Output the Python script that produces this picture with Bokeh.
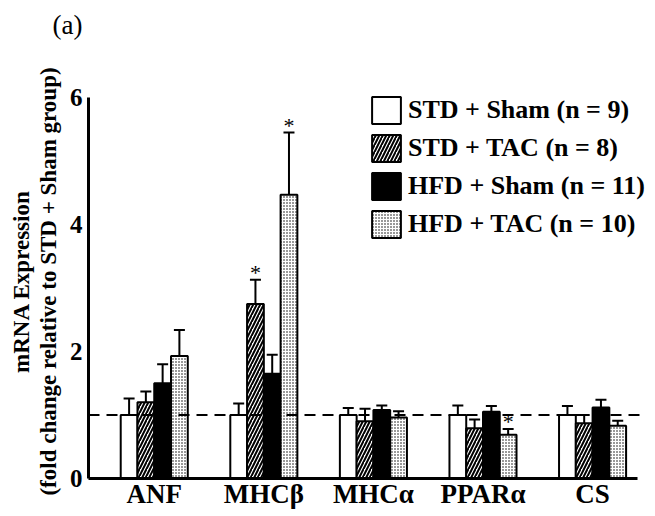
import numpy as np
from bokeh.plotting import figure
from bokeh.models import (Range1d, FixedTicker, Legend, LegendItem, Span,
                          ColumnDataSource, Title)
from bokeh.embed import file_html
from bokeh.resources import INLINE
from bokeh.core.properties import value

# ---------------- data ----------------
genes = ["ANF", "MHCβ", "MHCα", "PPARα", "CS"]
groups = ["STD + Sham (n = 9)", "STD + TAC (n = 8)",
          "HFD + Sham (n = 11)", "HFD + TAC (n = 10)"]

std_sham = [1.00, 1.00, 1.00, 1.00, 1.00]
std_sham_err = [0.26, 0.18, 0.11, 0.15, 0.14]
std_tac = [1.20, 2.75, 0.90, 0.79, 0.87]
std_tac_err = [0.17, 0.38, 0.20, 0.14, 0.13]
hfd_sham = [1.50, 1.65, 1.08, 1.05, 1.12]
hfd_sham_err = [0.30, 0.30, 0.07, 0.09, 0.12]
hfd_tac = [1.93, 4.47, 0.96, 0.69, 0.83]
hfd_tac_err = [0.41, 0.98, 0.10, 0.09, 0.08]

std_tac_sig = [False, True, False, False, False]
hfd_tac_sig = [False, True, False, True, False]

y_ticks = [0, 2, 4, 6]
y_label = "mRNA Expression\n(fold change relative to STD + Sham group)"
panel_tag = "(a)"

# ---------------- styles / layout ----------------
FONT = "Liberation Serif"
BAR_W = 0.153
X0, X_AXIS_END = -0.6, 4.41
PXX = 549 / (X_AXIS_END - X0)      # pixels per category step
PXY = 381 / 6.0                    # pixels per unit on y
FW = 557
HEAD = 13                          # extra frame pixels above y = 6
FH = 381 + HEAD
X1 = X0 + FW / PXX
Y1 = 6 + HEAD / PXY
offsets = [-1.5, -0.5, 0.5, 1.5]
styles = [
    dict(fill_color="white"),
    dict(fill_color="white", hatch_pattern="/", hatch_scale=7, hatch_weight=2,
         hatch_color="black"),
    dict(fill_color="black"),
    dict(fill_color="white", hatch_pattern=".", hatch_scale=3, hatch_weight=1.3,
         hatch_color="black"),
]
series = [(std_sham, std_sham_err, None), (std_tac, std_tac_err, std_tac_sig),
          (hfd_sham, hfd_sham_err, None), (hfd_tac, hfd_tac_err, hfd_tac_sig)]

p = figure(frame_width=FW, frame_height=FH, output_backend="svg",
           toolbar_location=None, x_range=Range1d(X0, X1),
           y_range=Range1d(0, Y1), min_border_left=88, min_border_top=84,
           min_border_right=10, min_border_bottom=30)
p.title.visible = False
p.outline_line_color = None
p.xgrid.visible = False
p.ygrid.visible = False

# panel tag "(a)" above the plot, lifted by a blank spacer title
p.add_layout(Title(text=" ", text_font_size="1px", standoff=42), "above")
p.add_layout(Title(text=panel_tag, align="left", offset=-36, standoff=0,
                   text_font=FONT, text_font_style="normal",
                   text_font_size="27px", text_color="black"), "above")

idx = np.arange(len(genes))
items = []
for k, ((vals, errs, sig), st) in enumerate(zip(series, styles)):
    xs = idx + offsets[k] * BAR_W
    vals = np.array(vals)
    tops = vals + np.array(errs)
    src = ColumnDataSource(dict(x=xs, top=vals, etop=tops))
    r = p.vbar(x="x", top="top", bottom=0, width=BAR_W, source=src,
               line_color="black", line_width=2, **st)
    items.append(LegendItem(label=groups[k], renderers=[r]))
    p.segment(x0="x", y0="top", x1="x", y1="etop", source=src,
              line_color="black", line_width=2)
    p.scatter(x="x", y="etop", marker="dash", size=11, source=src,
              line_color="black", line_width=2)
    if sig is not None:
        m = np.array(sig)
        ssrc = ColumnDataSource(dict(x=xs[m], y=tops[m], t=["*"] * int(m.sum())))
        p.text(x="x", y="y", text="t", source=ssrc, text_align="center",
               text_baseline="alphabetic", y_offset=-7,
               text_font=value(FONT), text_font_size="22px", text_color="black")

p.add_layout(Span(location=1, dimension="width", line_color="black",
                  line_width=2, line_dash="11 7"))

# axes
for ax in (p.xaxis[0], p.yaxis[0]):
    ax.axis_line_width = 3
    ax.axis_line_color = "black"
    ax.major_tick_out = 0
    ax.major_tick_in = 0
    ax.minor_tick_out = 0
    ax.minor_tick_in = 0
    ax.major_label_text_font = FONT
    ax.major_label_text_font_style = "bold"
    ax.major_label_text_color = "black"

p.yaxis.ticker = FixedTicker(ticks=y_ticks)
p.yaxis.bounds = (0, 6)
p.yaxis.major_label_text_font_size = "25px"
p.yaxis.major_label_standoff = 6
p.yaxis.axis_label = y_label
p.yaxis.axis_label_text_font = FONT
p.yaxis.axis_label_text_font_style = "bold"
p.yaxis.axis_label_text_font_size = "23px"
p.yaxis.axis_label_text_line_height = 1.1
p.yaxis.axis_label_text_color = "black"
p.yaxis.axis_label_standoff = 6

p.xaxis.ticker = FixedTicker(ticks=list(idx))
p.xaxis.bounds = (X0, X_AXIS_END)
p.xaxis.major_label_overrides = {int(i): g for i, g in enumerate(genes)}
p.xaxis.major_label_text_font_size = "27px"
p.xaxis.major_label_standoff = 0

legend = Legend(items=items, location=(280, 237), padding=0, margin=0,
                border_line_color=None, background_fill_alpha=0,
                glyph_width=36, glyph_height=34, label_height=34, spacing=4,
                label_standoff=4, label_text_font=FONT,
                label_text_font_style="bold", label_text_font_size="26px",
                label_text_color="black")
p.add_layout(legend)

open("out.html", "w").write(file_html(p, INLINE))
